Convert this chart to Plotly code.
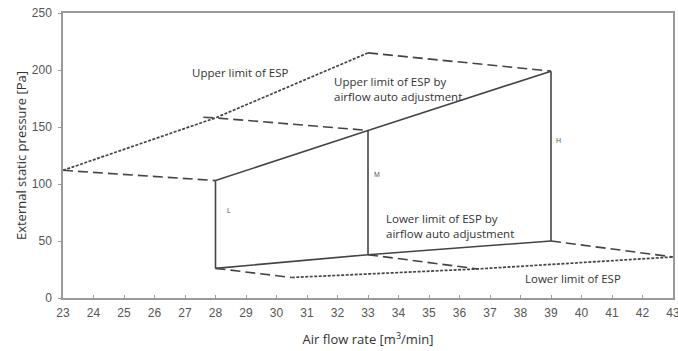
import plotly.graph_objects as go

# ---- data ----
x_ticks = list(range(23, 44))
y_ticks = [0, 50, 100, 150, 200, 250]

# Upper limit of ESP (dotted)
upper_esp_x = [23, 28, 33]
upper_esp_y = [112, 158, 215]

# Dashed connectors at the top
dash_top1_x = [23, 28]
dash_top1_y = [112, 103]
dash_top2_x = [27.6, 28, 33]
dash_top2_y = [158.5, 158, 147]
dash_top3_x = [33, 39]
dash_top3_y = [215, 199]

# Upper limit of ESP by airflow auto adjustment (solid)
upper_auto_x = [28, 33, 39]
upper_auto_y = [103, 147, 199]

# Lower limit of ESP by airflow auto adjustment (solid)
lower_auto_x = [28, 33, 39]
lower_auto_y = [26, 38, 50]

# Fan steps L, M, H (vertical solid lines)
step_names = ["L", "M", "H"]
step_x = [28, 33, 39]
step_low = [26, 38, 50]
step_high = [103, 147, 199]

# Dashed connectors at the bottom
dash_bot1_x = [28, 30.5]
dash_bot1_y = [26, 18]
dash_bot2_x = [33, 36.6]
dash_bot2_y = [38, 25.5]
dash_bot3_x = [39, 43]
dash_bot3_y = [50, 36]

# Lower limit of ESP (dotted)
lower_esp_x = [30.5, 36.6, 43]
lower_esp_y = [18, 25.5, 36]

LINE = "#444444"
DASH = "10px,5px"
DOT = "3px,1.5px"

fig = go.Figure()


def add(x, y, dash=None, width=1.6, color=LINE):
    line = dict(color=color, width=width)
    if dash:
        line["dash"] = dash
    fig.add_trace(go.Scatter(x=x, y=y, mode="lines", line=line,
                             hoverinfo="skip", showlegend=False))


add(upper_esp_x, upper_esp_y, DOT, 1.7)
add(dash_top1_x, dash_top1_y, DASH)
add(dash_top2_x, dash_top2_y, DASH)
add(dash_top3_x, dash_top3_y, DASH)
add(upper_auto_x, upper_auto_y)
add(lower_auto_x, lower_auto_y)
for sx, lo, hi in zip(step_x, step_low, step_high):
    add([sx, sx], [lo, hi])
add(dash_bot1_x, dash_bot1_y, DASH)
add(dash_bot2_x, dash_bot2_y, DASH)
add(dash_bot3_x, dash_bot3_y, DASH)
add(lower_esp_x, lower_esp_y, DOT, 1.7)

TXT = dict(family="Open Sans", size=11.5, color="#333333")
labels = [
    ("Upper limit of ESP", 27.16, 197.4),
    ("Upper limit of ESP by<br>airflow auto adjustment", 31.82, 183.0),
    ("Lower limit of ESP by<br>airflow auto adjustment", 33.52, 63.2),
    ("Lower limit of ESP", 38.08, 17.5),
]
for text, lx, ly in labels:
    fig.add_annotation(x=lx, y=ly, text=text, showarrow=False, align="left",
                       xanchor="left", yanchor="middle", font=TXT)

step_label_x = [28.44, 33.3, 39.23]
step_label_y = [77, 108, 138]
for name, lx, ly in zip(step_names, step_label_x, step_label_y):
    fig.add_annotation(x=lx, y=ly, text=name, showarrow=False,
                       xanchor="center", yanchor="middle",
                       font=dict(family="Liberation Sans", size=7, color="#555555"))

AX_TICK = dict(family="Liberation Sans", size=12, color="#555555")
fig.update_xaxes(range=[23, 43], tickvals=x_ticks, ticktext=[str(v) for v in x_ticks],
                 showgrid=False, zeroline=False, showline=True, linecolor="#9a9a9a",
                 linewidth=1.5, mirror=True, ticks="inside", ticklen=3, tickcolor="#9a9a9a",
                 tickfont=AX_TICK, automargin=False, ticklabeloverflow="allow",
                 ticklabelstandoff=3,
                 title=dict(text="Air flow rate [m<sup>3</sup>/min]",
                            font=dict(family="Open Sans", size=13, color="#333333"),
                            standoff=16))
fig.update_yaxes(range=[0, 250], tickvals=y_ticks, ticktext=[str(v) for v in y_ticks],
                 showgrid=False, zeroline=False, showline=True, linecolor="#9a9a9a",
                 linewidth=1.5, mirror=True, ticks="outside", ticklen=3, tickcolor="#9a9a9a",
                 tickfont=AX_TICK, ticklabelstandoff=4, automargin=False,
                 ticklabeloverflow="allow",
                 title=dict(text="External static pressure [Pa]",
                            font=dict(family="Open Sans", size=13, color="#333333"),
                            standoff=2))

fig.update_layout(width=678, height=351, margin=dict(l=63, r=5, t=13, b=53),
                  plot_bgcolor="white", paper_bgcolor="white")

# remove the default page margin so the figure fills the window exactly
fig.write_html("out.html", config={"displayModeBar": False},
               post_script="document.body.style.margin='0';document.body.style.overflow='hidden';")
